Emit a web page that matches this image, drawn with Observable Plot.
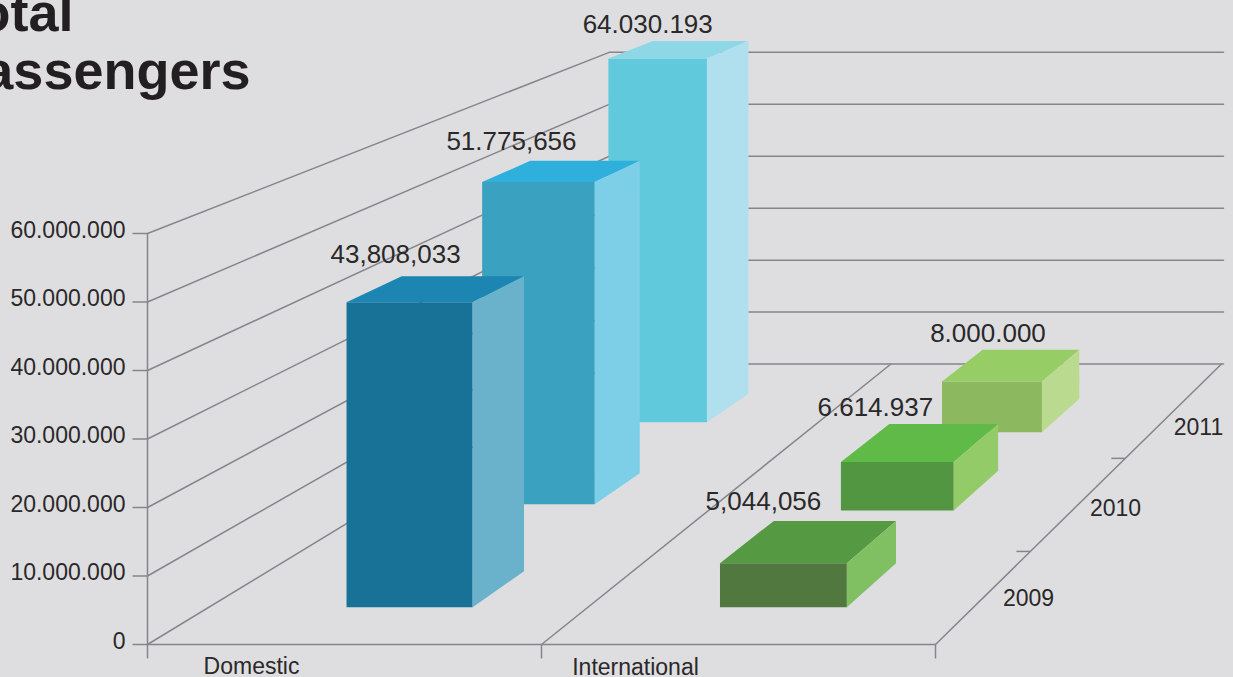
<!DOCTYPE html>
<html>
<head>
<meta charset="utf-8">
<style>
  html, body { margin: 0; padding: 0; background: #dedee0; overflow: hidden; }
  svg { display: block; }
</style>
<script src="https://cdn.jsdelivr.net/npm/d3@7"></script>
<script src="https://cdn.jsdelivr.net/npm/@observablehq/plot@0.6"></script>
</head>
<body>
<div id="chart"></div>
<script>
// Passenger totals by market and year
const years = ["2009", "2010", "2011"];
const categories = ["Domestic", "International"];
const domesticValues = [43808033, 51775656, 64030193];
const internationalValues = [5044056, 6614937, 8000000];
const domesticLabels = ["43,808,033", "51.775,656", "64.030.193"];
const internationalLabels = ["5,044,056", "6.614.937", "8.000.000"];
const axisValues = [0, 10000000, 20000000, 30000000, 40000000, 50000000, 60000000];
const axisLabels = ["0", "10.000.000", "20.000.000", "30.000.000", "40.000.000", "50.000.000", "60.000.000"];

// Face colours, one [front, top, side] triple per year
const domesticColors = [
  ["#187298", "#1d85b1", "#6ab1cb"],
  ["#3aa1c0", "#2fb0dc", "#7dcfe8"],
  ["#60c9dc", "#8ed7e6", "#b0dfed"]
];
const internationalColors = [
  ["#50783f", "#559a42", "#80c062"],
  ["#539641", "#60ba47", "#93cb68"],
  ["#8cb85f", "#96cd65", "#b9da8f"]
];

// Perspective set-up: depth is the shrink factor, 1 at the front edge, 0.774 at the back wall
const frontDepth = 1, backDepth = 0.774;
const originX = 147, vanishX = 2190, vanishY = -597, floorDrop = 1241;
const pxPerUnit = 6.85e-6;
const floorWidth = 788, dividerFront = 394, dividerBack = 364;
const yearDividers = [0.925, 0.85];
const rightEdgeBack = 1221;

// Placement of the blocks on the floor; lid is the block's cap thickness in passengers
const domesticSlots = [
  {left: 142, width: 130, near: 0.970, far: 0.941, lid: 2200000, dx: -14, dy: -48},
  {left: 117, width: 127, near: 0.887, far: 0.862, lid: 1760000, dx: -27, dy: -40},
  {left: 116, width: 120, near: 0.821, far: 0.798, lid: 1700000, dx: -10, dy: -34}
];
const internationalSlots = [
  {left: 527, width: 130.8, near: 0.970, far: 0.9345, lid: 1600000, dx: -20, dy: -62},
  {left: 530, width: 126.5, near: 0.892, far: 0.86, lid: 1400000, dx: -22, dy: -54},
  {left: 537, width: 120.5, near: 0.829, far: 0.802, lid: 1100000, dx: -4, dy: -48}
];

// Maps (position along the floor, depth, value) onto the flat drawing plane
function project(along, depth, value) {
  return {
    x: vanishX + (originX + along - vanishX) * depth,
    y: vanishY + floorDrop * depth - value * pxPerUnit * Math.pow(depth, 1.08)
  };
}

function buildBlock(series, i, value, slot, colors, label) {
  const {left, width, near, far, lid} = slot;
  const right = left + width, top = value + lid;
  const faces = [
    {face: "front", fill: colors[0], corners: [[left, near, 0], [right, near, 0], [right, near, top], [left, near, top]]},
    {face: "top", fill: colors[1], corners: [[left, near, top], [right, near, top], [right, far, top], [left, far, top]]},
    {face: "side", fill: colors[2], corners: [[right, near, 0], [right, far, 0], [right, far, top], [right, near, top]]}
  ];
  const anchor = project(left + width / 2, near, top);
  return {
    label: {text: label, x: anchor.x + slot.dx, y: anchor.y + slot.dy},
    points: faces.flatMap(f => f.corners.map(c => ({
      id: `${series}-${i}-${f.face}`,
      fill: f.fill,
      ...project(...c)
    })))
  };
}

// Blocks are painted from the back row forward so nearer ones overlap farther ones
const order = [2, 1, 0];
const blocks = [
  ...order.map(i => buildBlock("domestic", i, domesticValues[i], domesticSlots[i], domesticColors[i], domesticLabels[i])),
  ...order.map(i => buildBlock("international", i, internationalValues[i], internationalSlots[i], internationalColors[i], internationalLabels[i]))
];
const facePoints = blocks.flatMap(b => b.points);
const valueLabels = blocks.map(b => b.label);

// Wall grid: across the left wall, then along the back wall
const gridRightEdge = 1223;
const gridPoints = axisValues.flatMap(v => {
  const a = project(0, frontDepth, v), b = project(0, backDepth, v);
  return [{id: v, ...a}, {id: v, ...b}, {id: v, x: gridRightEdge, y: b.y}];
});

// Floor outline and the divider between the two markets
const floorLines = [
  [project(0, frontDepth, 0), project(floorWidth, frontDepth, 0)],
  [project(floorWidth, frontDepth, 0), {x: rightEdgeBack, y: project(0, backDepth, 0).y}],
  [project(dividerFront, frontDepth, 0), project(dividerBack, backDepth, 0)]
].flatMap((pts, i) => pts.map(p => ({id: i, ...p})));

const floorEdgeAt = depth => {
  const a = project(floorWidth, frontDepth, 0), y = project(0, depth, 0).y;
  const t = (a.y - y) / (a.y - project(0, backDepth, 0).y);
  return {x: a.x + (rightEdgeBack - a.x) * t, y};
};

const tickPoints = [
  ...axisValues.map(v => { const p = project(0, frontDepth, v); return {x1: p.x - 15, x2: p.x, y1: p.y, y2: p.y}; }),
  ...yearDividers.map(d => { const p = floorEdgeAt(d); return {x1: p.x - 14, x2: p.x, y1: p.y, y2: p.y}; }),
  ...[0, dividerFront, floorWidth].map(a => { const p = project(a, frontDepth, 0); return {x1: p.x, x2: p.x, y1: p.y, y2: p.y + 14}; })
];

const wallEdge = {
  x1: project(0, frontDepth, 0).x, x2: project(0, frontDepth, 0).x,
  y1: project(0, frontDepth, axisValues[6]).y, y2: project(0, frontDepth, 0).y
};

const axisText = axisValues.map((v, i) => ({text: axisLabels[i], x: 125, y: project(0, frontDepth, v).y - 3}));
const categoryText = [
  {text: categories[0], x: 251, y: 666},
  {text: categories[1], x: 635, y: 667}
];
const yearText = [
  {text: years[0], x: 1028, y: 598},
  {text: years[1], x: 1115, y: 508},
  {text: years[2], x: 1198, y: 427}
];
const titleText = [
  {text: "Total", x: 73, y: 13},
  {text: "Passengers", x: 250, y: 71}
];

const lineColor = "#85858b";
const inkColor = "#2a2829";
const fontFamily = "'Liberation Sans', Arial, sans-serif";

const chart = Plot.plot({
  width: 1233,
  height: 677,
  margin: 0,
  style: {background: "#dedee0", fontFamily},
  x: {type: "linear", domain: [0, 1233], range: [0, 1233], axis: null},
  y: {type: "linear", domain: [0, 677], range: [0, 677], axis: null},
  color: {type: "identity"},
  marks: [
    Plot.line(gridPoints, {x: "x", y: "y", z: "id", stroke: lineColor, strokeWidth: 1.5}),
    Plot.line(floorLines, {x: "x", y: "y", z: "id", stroke: lineColor, strokeWidth: 1.5}),
    Plot.link(tickPoints, {x1: "x1", x2: "x2", y1: "y1", y2: "y2", stroke: lineColor, strokeWidth: 1.5}),
    Plot.link([wallEdge], {x1: "x1", x2: "x2", y1: "y1", y2: "y2", stroke: lineColor, strokeWidth: 1.5}),
    Plot.line(facePoints, {x: "x", y: "y", z: "id", fill: "fill"}),
    Plot.text(valueLabels, {x: "x", y: "y", text: "text", fontSize: 26, fill: inkColor}),
    Plot.text(axisText, {x: "x", y: "y", text: "text", textAnchor: "end", fontSize: 23, fill: inkColor}),
    Plot.text(categoryText, {x: "x", y: "y", text: "text", fontSize: 23, fill: inkColor}),
    Plot.text(yearText, {x: "x", y: "y", text: "text", fontSize: 23, fill: inkColor}),
    Plot.text(titleText, {x: "x", y: "y", text: "text", textAnchor: "end", fontSize: 54, fontWeight: "bold", fill: "#231f20"})
  ]
});
document.getElementById("chart").appendChild(chart);
</script>
</body>
</html>
